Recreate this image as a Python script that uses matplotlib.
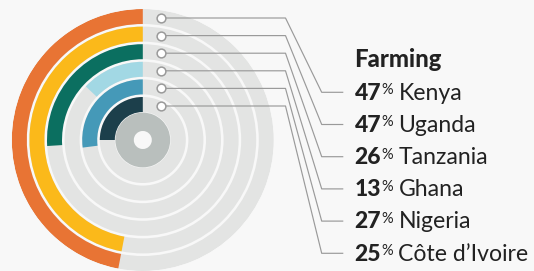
import numpy as np
import matplotlib
matplotlib.use("Agg")
import matplotlib.pyplot as plt

# ---- data ----
title = "Farming"
countries = ["Kenya", "Uganda", "Tanzania", "Ghana", "Nigeria", "Côte d\u2019Ivoire"]
values = [47, 47, 26, 13, 27, 25]
colors = ["#e87434", "#fbb91a", "#0b6f60", "#a2d8e4", "#4599b8", "#1c3f4b"]

# ---- layout (pixels) ----
W, H = 534, 271
DPI = 100
bg = "#f8f8f8"
ring_bg = "#e3e4e3"
core_col = "#b9bfbd"
line_col = "#9a9a9a"
text_col = "#222222"

cx, cy = 142.8, 140.0
R = 131.0
pitch = 17.6
ring_w = 15.0

fig = plt.figure(figsize=(W / DPI, H / DPI), dpi=DPI, facecolor=bg)

# polar axes for rings
pax = fig.add_axes([(cx - R) / W, (H - cy - R) / H, 2 * R / W, 2 * R / H],
                   projection="polar")
pax.set_theta_zero_location("N")
pax.set_theta_direction(1)
pax.set_ylim(0, R)
pax.set_axis_off()
pax.patch.set_alpha(0)

for i, (v, c) in enumerate(zip(values, colors)):
    r_out = R - pitch * i
    r_in = r_out - ring_w
    pax.bar(0, ring_w, bottom=r_in, width=2 * np.pi, align="edge",
            color=ring_bg, edgecolor="none", linewidth=0)
    pax.bar(0, ring_w, bottom=r_in, width=2 * np.pi * v / 100.0, align="edge",
            color=c, edgecolor="none", linewidth=0)

# central donut
core_out = R - pitch * len(values) + 2.0
core_in = 9.0
pax.bar(0, core_out - core_in, bottom=core_in, width=2 * np.pi, align="edge",
        color=core_col, edgecolor="none", linewidth=0)

# overlay axes in pixel coordinates
ax = fig.add_axes([0, 0, 1, 1])
ax.set_xlim(0, W)
ax.set_ylim(H, 0)
ax.set_axis_off()
ax.patch.set_alpha(0)

marker_x = 161.0
bend_x1 = 285.5
bend_x2 = 321.7
end_x = 343.3
row0 = 92.3
row_pitch = 32.2

for i, name in enumerate(countries):
    r_mid = R - pitch * i - ring_w / 2
    my = cy - r_mid + 1.5
    ry = row0 + row_pitch * i
    ax.plot([marker_x, bend_x1, bend_x2, end_x], [my, my, ry, ry],
            color=line_col, lw=0.85, solid_capstyle="butt", zorder=2)
    ax.plot([marker_x], [my], marker="o", ms=6.3, mfc="white",
            mec=line_col, mew=1.1, zorder=3)
    base = ry + 7.3
    ax.text(354.5, base, f"{values[i]}", fontsize=16.5, fontweight="black",
            family="Lato", color=text_col, va="baseline", ha="left")
    ax.text(381.5, ry - 9.0, "%", fontsize=10.5, family="Lato",
            color=text_col, va="top", ha="left")
    ax.text(398.5, base, name, fontsize=16.6, family="Lato",
            color=text_col, va="baseline", ha="left")

ax.text(354.5, 66.8, title, fontsize=17.2, fontweight="black", family="Lato",
        color=text_col, va="baseline", ha="left")

fig.savefig("out.png", dpi=DPI, facecolor=bg)
